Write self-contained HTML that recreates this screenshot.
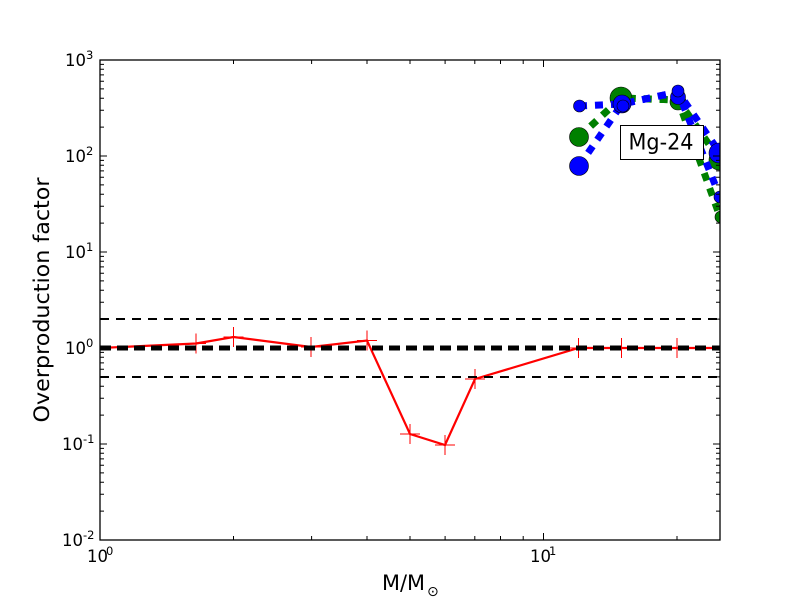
<!DOCTYPE html>
<html><head><meta charset="utf-8"><style>
html,body{margin:0;padding:0;background:#fff;}
svg{display:block;font-family:"DejaVu Sans","Liberation Sans",sans-serif;}
</style></head><body>
<svg width="800" height="600" viewBox="0 0 800 600" xmlns="http://www.w3.org/2000/svg">
<rect width="800" height="600" fill="#fff"/>
<defs><clipPath id="c"><rect x="100" y="60" width="620" height="480"/></clipPath></defs>

<g clip-path="url(#c)">
<!-- red series -->
<polyline fill="none" stroke="#ff0000" stroke-width="2.2" stroke-linejoin="miter" points="100,348 196,343.5 233.5,337 311,347 367,340.5 410,434 445,445 475,379 578.5,348 621.5,348 677,348 720,348"/>
<g stroke="#ff0000" stroke-width="1">
<path d="M186,343.5h20M196,333.5v20"/>
<path d="M223.5,337h20M233.5,327v20"/>
<path d="M301,347h20M311,337v20"/>
<path d="M357,340.5h20M367,330.5v20"/>
<path d="M400,434h20M410,424v20"/>
<path d="M435,445h20M445,435v20"/>
<path d="M465,379h20M475,369v20"/>
<path d="M568.5,348h20M578.5,338v20"/>
<path d="M611.5,348h20M621.5,338v20"/>
<path d="M667,348h20M677,338v20"/>
<path d="M710,348h20M720,338v20"/>
<path d="M90,348h20M100,338v20"/>
</g>
<!-- reference lines -->
<line x1="100" y1="319" x2="720" y2="319" stroke="#000" stroke-width="2" stroke-dasharray="9,7"/>
<line x1="100" y1="377" x2="720" y2="377" stroke="#000" stroke-width="2" stroke-dasharray="9,7"/>
<line x1="100" y1="348" x2="720" y2="348" stroke="#000" stroke-width="5" stroke-dasharray="11,6"/>

<!-- green series -->
<g fill="none" stroke="#008000" stroke-width="7" stroke-dasharray="8,8">
<polyline points="579,137 621,98 678,100 720,160"/>
<polyline points="579,137 621,98 678,100 720,217"/>
</g>
<g fill="#008000" stroke="#000" stroke-width="0.6">
<circle cx="579" cy="137" r="9.5"/>
<circle cx="621" cy="98" r="11"/>
<circle cx="678" cy="102" r="8"/>
<circle cx="719" cy="160" r="10"/>
<circle cx="721" cy="217" r="6"/>
</g>
<!-- blue series -->
<g fill="none" stroke="#0000ff" stroke-width="7" stroke-dasharray="8,8">
<polyline points="579,166 622,104 678,92 720,153"/>
<polyline points="579,106 622,104 678,92 720,197"/>
</g>
<g fill="#0000ff" stroke="#000" stroke-width="0.6">
<circle cx="579" cy="166" r="9.5"/>
<circle cx="579.5" cy="106" r="6"/>
<circle cx="622" cy="104" r="9"/>
<circle cx="623" cy="106" r="6"/>
<circle cx="678" cy="97" r="7.5"/>
<circle cx="678" cy="91" r="6"/>
<circle cx="719" cy="153" r="10"/>
<circle cx="720" cy="197" r="6"/>
</g>
</g>

<!-- annotation box -->
<rect x="620.5" y="125.5" width="83" height="34" fill="#fff" stroke="#000" stroke-width="1"/>
<text x="661" y="149.5" font-size="22" text-anchor="middle" textLength="65" lengthAdjust="spacingAndGlyphs">Mg-24</text>

<!-- frame -->
<rect x="100" y="60" width="620" height="480" fill="none" stroke="#000" stroke-width="1.3"/>

<!-- ticks -->
<g stroke="#000" stroke-width="1">
<path d="M100,60h7M100,156h7M100,252h7M100,348h7M100,444h7M100,540h7"/>
<path d="M720,60h-7M720,156h-7M720,252h-7M720,348h-7M720,444h-7M720,540h-7"/>
<path d="
M100,511.1h4M100,494.2h4M100,482.2h4M100,472.9h4M100,465.3h4M100,458.9h4M100,453.3h4M100,448.4h4
M100,415.1h4M100,398.2h4M100,386.2h4M100,376.9h4M100,369.3h4M100,362.9h4M100,357.3h4M100,352.4h4
M100,319.1h4M100,302.2h4M100,290.2h4M100,280.9h4M100,273.3h4M100,266.9h4M100,261.3h4M100,256.4h4
M100,223.1h4M100,206.2h4M100,194.2h4M100,184.9h4M100,177.3h4M100,170.9h4M100,165.3h4M100,160.4h4
M100,127.1h4M100,110.2h4M100,98.2h4M100,88.9h4M100,81.3h4M100,74.9h4M100,69.3h4M100,64.4h4"/>
<path d="
M720,511.1h-4M720,494.2h-4M720,482.2h-4M720,472.9h-4M720,465.3h-4M720,458.9h-4M720,453.3h-4M720,448.4h-4
M720,415.1h-4M720,398.2h-4M720,386.2h-4M720,376.9h-4M720,369.3h-4M720,362.9h-4M720,357.3h-4M720,352.4h-4
M720,319.1h-4M720,302.2h-4M720,290.2h-4M720,280.9h-4M720,273.3h-4M720,266.9h-4M720,261.3h-4M720,256.4h-4
M720,223.1h-4M720,206.2h-4M720,194.2h-4M720,184.9h-4M720,177.3h-4M720,170.9h-4M720,165.3h-4M720,160.4h-4
M720,127.1h-4M720,110.2h-4M720,98.2h-4M720,88.9h-4M720,81.3h-4M720,74.9h-4M720,69.3h-4M720,64.4h-4"/>
<path d="M543.5,540v-7M543.5,60v7"/>
<path d="M233.5,540v-4M311.6,540v-4M367,540v-4M410,540v-4M445.1,540v-4M474.8,540v-4M500.5,540v-4M523.2,540v-4M677,540v-4"/>
<path d="M233.5,60v4M311.6,60v4M367,60v4M410,60v4M445.1,60v4M474.8,60v4M500.5,60v4M523.2,60v4M677,60v4"/>
</g>

<!-- y tick labels -->
<g font-size="16.5">
<text x="65" y="66">10</text><text x="86" y="59" font-size="11.5">3</text>
<text x="65" y="162">10</text><text x="86" y="155" font-size="11.5">2</text>
<text x="65" y="258">10</text><text x="86" y="251" font-size="11.5">1</text>
<text x="65" y="354">10</text><text x="86" y="347" font-size="11.5">0</text>
<text x="62" y="450">10</text><text x="83" y="443" font-size="11.5">-1</text>
<text x="62" y="546">10</text><text x="83" y="539" font-size="11.5">-2</text>
</g>

<!-- x tick labels -->
<g font-size="16.5">
<text x="87" y="562">10</text><text x="106" y="555" font-size="11.5">0</text>
<text x="530" y="562">10</text><text x="549" y="555" font-size="11.5">1</text>
</g>

<!-- axis labels -->
<text x="382" y="590" font-size="21" textLength="43" lengthAdjust="spacingAndGlyphs">M/M</text>
<text x="427" y="596" font-size="14">⊙</text>
<text transform="translate(49,300) rotate(-90)" font-size="21" text-anchor="middle" textLength="245" lengthAdjust="spacingAndGlyphs">Overproduction factor</text>
</svg>
</body></html>
